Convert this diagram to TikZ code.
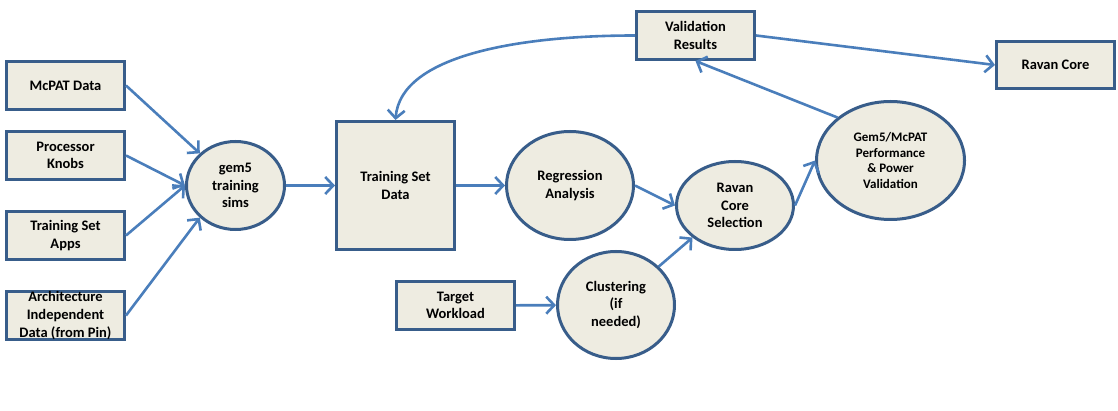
\documentclass[tikz,border=0pt]{standalone}
\usepackage{fontspec}
\setmainfont{Carlito}
\usetikzlibrary{arrows.meta,shapes.geometric}
\definecolor{boxfill}{HTML}{EEECE1}
\definecolor{boxline}{HTML}{385D8A}
\definecolor{flowline}{HTML}{4A7EBB}
\tikzset{
	box/.style={
		% The shape:
		rectangle,inner sep=0pt,
		% The border:
		line width=3pt,
		draw=boxline,
		% The filling:
		fill=boxfill,
		% The text:
		align=center,font=\bfseries\fontsize{14.5}{17.7}\selectfont,
	}}
\tikzset{
	blob/.style={
		% The shape:
		box,ellipse,
	}}
\tikzset{
	flow/.style={
		% The line:
		line width=2.6pt,draw=flowline,
		% The tip:
		-{Straight Barb[length=8pt,width=17pt,line width=2.6pt]},
	}}

\begin{document}
\begin{tikzpicture}[x=1pt,y=-1pt]
	\useasboundingbox (0,0) rectangle (1118,411);
	% inputs on the left
	\node[box,minimum width=118,minimum height=48] (mcpat) at (65.5,85.5) {McPAT Data};
	\node[box,minimum width=118,minimum height=48] (knobs) at (65.5,155.5) {Processor\\Knobs};
	\node[box,minimum width=118,minimum height=48] (apps) at (65.5,235.5) {Training Set\\Apps};
	\node[box,minimum width=118,minimum height=48] (arch) at (65.5,315.5) {Architecture\\Independent\\Data (from Pin)};
	% main chain
	\node[blob,minimum width=98,minimum height=88] (sims) at (235.5,185.5) {gem5\\training\\sims};
	\node[box,minimum width=118,minimum height=128] (tsd) at (395.5,185.5) {Training Set\\Data};
	\node[blob,minimum width=127,minimum height=108] (regr) at (570,185.5) {Regression\\Analysis};
	\node[blob,minimum width=117,minimum height=88] (sel) at (735,205.5) {Ravan\\Core\\Selection};
	\node[box,minimum width=118,minimum height=48] (target) at (455.5,305.5) {Target\\Workload};
	\node[blob,minimum width=117,minimum height=107] (clust) at (616,305) {Clustering\\(if\\needed)};
	\node[blob,minimum width=148,minimum height=118,font=\bfseries\fontsize{13}{15.9}\selectfont] (valid) at (890.5,160.5) {Gem5/McPAT\\Performance\\\&~Power\\Validation};
	\node[box,minimum width=118,minimum height=48] (vres) at (695.5,35.5) {Validation\\Results};
	\node[box,minimum width=118,minimum height=47] (core) at (1055.5,65) {Ravan Core};
	% connectors
	\draw[flow] (mcpat.east) -- (sims.138);
	\draw[flow] (knobs.east) -- (sims.west);
	\draw[flow] (apps.east) -- (sims.west);
	\draw[flow] (arch.east) -- (sims.222);
	\draw[flow] (sims) -- (tsd);
	\draw[flow] (tsd) -- (regr);
	\draw[flow] (regr.east) -- (sel.west);
	\draw[flow] (target) -- (clust);
	\draw[flow] (clust.42) -- (sel.217);
	\draw[flow] (sel.east) -- (valid.west);
	\draw[flow] (valid.141) -- (vres.south);
	\draw[flow] (vres.east) -- (core.west);
	\draw[flow] (vres.west) .. controls +(-115,0) and +(5,-65) .. (tsd.north);
\end{tikzpicture}
\end{document}
